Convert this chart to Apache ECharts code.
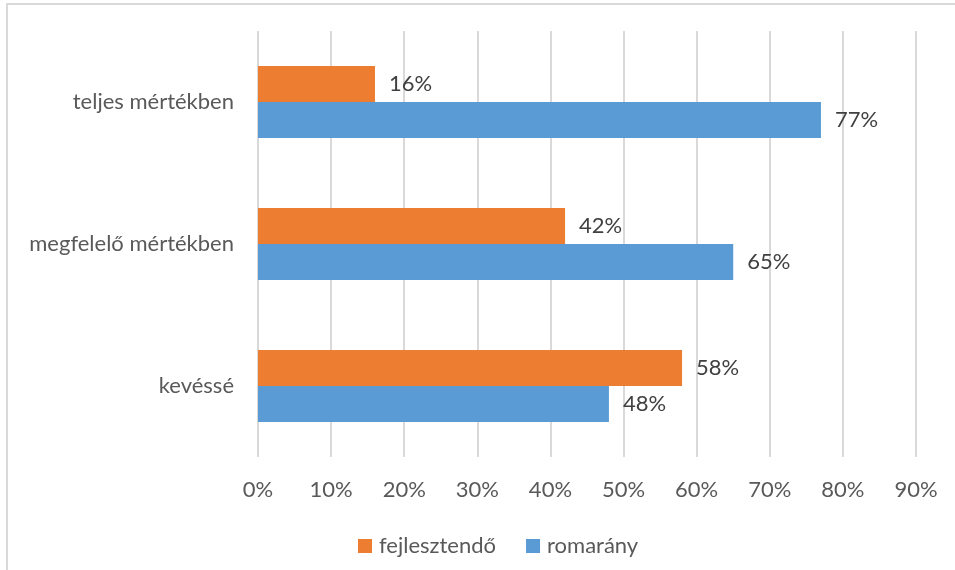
<!DOCTYPE html>
<html>
<head>
<meta charset="utf-8">
<script src="https://cdn.jsdelivr.net/npm/echarts@6/dist/echarts.min.js"></script>
<style>
  html, body { margin: 0; padding: 0; background: #fff; }
  #chart { width: 955px; height: 570px; }
</style>
</head>
<body>
<div id="chart"></div>
<script>
// bottom to top, as the category axis runs
const categories = ['kevéssé', 'megfelelő mértékben', 'teljes mértékben'];
const fejlesztendo = [58, 42, 16];
const romarany = [48, 65, 77];
const xTicks = [0, 10, 20, 30, 40, 50, 60, 70, 80, 90];

const chart = echarts.init(document.getElementById('chart'));
const font = 'Lato, "Open Sans", sans-serif';

const labelOpt = {
  show: true,
  position: 'right',
  distance: 14,
  color: '#404040',
  fontSize: 22,
  fontFamily: font,
  formatter: (p) => p.value + '%'
};

chart.setOption({
  animation: false,
  graphic: [{
    type: 'rect',
    shape: { x: 7, y: 4, width: 1000, height: 600 },
    style: { fill: 'none', stroke: '#d9d9d9', lineWidth: 2 }
  }],
  legend: {
    data: ['fejlesztendő', 'romarány'],
    top: 530,
    left: 353,
    itemWidth: 14,
    itemHeight: 14,
    itemGap: 30,
    icon: 'rect',
    textStyle: { color: '#595959', fontSize: 22, fontFamily: font, padding: [0, 0, 0, 2] }
  },
  grid: { left: 258, right: 39, top: 31, bottom: 113, containLabel: false },
  xAxis: {
    type: 'value',
    min: 0,
    max: 90,
    interval: 10,
    axisLine: { show: false },
    axisTick: { show: false },
    splitLine: { lineStyle: { color: '#d9d9d9', width: 2 } },
    axisLabel: {
      color: '#595959',
      fontSize: 22,
      fontFamily: font,
      margin: 22,
      formatter: (v) => xTicks.indexOf(v) >= 0 ? v + '%' : ''
    }
  },
  yAxis: {
    type: 'category',
    data: categories,
    axisLine: { show: false },
    axisTick: { show: false },
    axisLabel: { color: '#595959', fontSize: 22, fontFamily: font, margin: 24 }
  },
  series: [
    {
      name: 'fejlesztendő',
      type: 'bar',
      data: fejlesztendo,
      barWidth: 36,
      barGap: '0%',
      itemStyle: { color: '#ed7d31' },
      label: labelOpt
    },
    {
      name: 'romarány',
      type: 'bar',
      data: romarany,
      barWidth: 36,
      barGap: '0%',
      itemStyle: { color: '#5b9bd5' },
      label: labelOpt
    }
  ]
});
</script>
</body>
</html>
